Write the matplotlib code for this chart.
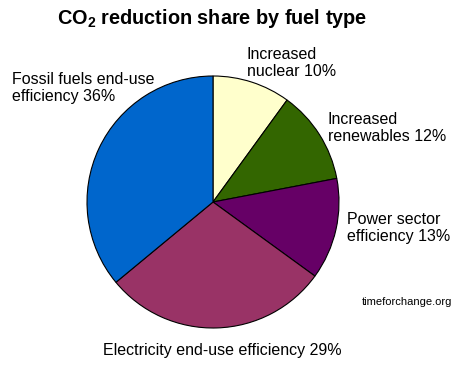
import matplotlib
matplotlib.use("Agg")
import matplotlib.pyplot as plt

categories = ["Increased nuclear", "Increased renewables", "Power sector efficiency",
              "Electricity end-use efficiency", "Fossil fuels end-use efficiency"]
shares = [10, 12, 13, 29, 36]
colors = ["#FFFFCC", "#336600", "#660066", "#993366", "#0066CC"]
label_texts = ["Increased\nnuclear 10%", "Increased\nrenewables 12%", "Power sector\nefficiency 13%",
               "Electricity end-use efficiency 29%", "Fossil fuels end-use\nefficiency 36%"]

plt.rcParams['font.family'] = ['Liberation Sans', 'DejaVu Sans']
plt.rcParams['mathtext.fontset'] = 'custom'
plt.rcParams['mathtext.rm'] = 'Liberation Sans:bold'

W, H = 460, 368
fig = plt.figure(figsize=(W / 100, H / 100), dpi=100)
fig.patch.set_facecolor("white")

cx, cy = 213, 202
rx, ry = 126, 126
m = 1.1
ax = fig.add_axes([(cx - rx * m) / W, (H - cy - ry * m) / H, 2 * rx * m / W, 2 * ry * m / H])
ax.pie(shares, colors=colors, startangle=90, counterclock=False,
       wedgeprops=dict(edgecolor="black", linewidth=0.8))
ax.set_aspect('auto')
ax.set_xlim(-m, m)
ax.set_ylim(-m, m)
ax.axis('off')

def px(x, y):
    return x / W, 1 - y / H

fs = 11.5
fig.text(*px(212, 18), r"CO$_2$ reduction share by fuel type", ha="center", va="center",
         fontsize=14.3, fontweight="bold")
pos = [(247, 63, "left"), (328, 128, "left"), (347, 228, "left"), (222, 351, "center"), (12, 88, "left")]
for (x, y, ha), t in zip(pos, label_texts):
    fig.text(*px(x, y), t, ha=ha, va="center", fontsize=fs, linespacing=1.15)
fig.text(*px(362, 302), "timeforchange.org", ha="left", va="center", fontsize=8)

fig.savefig("out.png", dpi=100, facecolor="white")
